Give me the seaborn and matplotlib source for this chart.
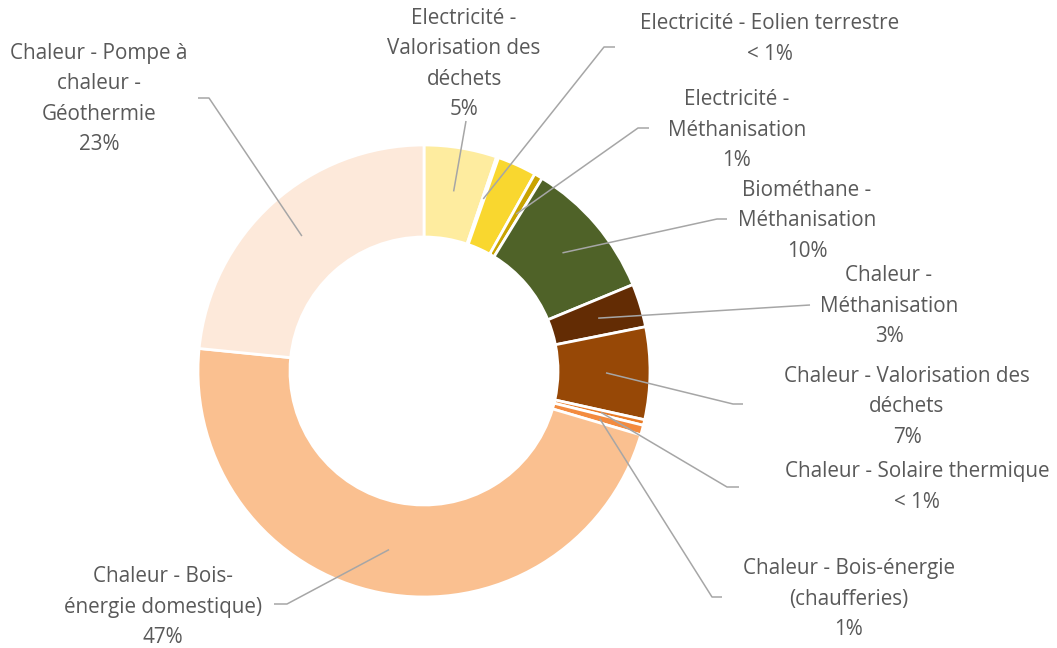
import numpy as np
import matplotlib
matplotlib.use("Agg")
import matplotlib.pyplot as plt
import seaborn as sns

# ---------------- data ----------------
categories = [
    "Electricité - Valorisation des déchets",
    "Electricité - Eolien terrestre",
    "Electricité - Photovoltaïque",
    "Electricité - Méthanisation",
    "Biométhane - Méthanisation",
    "Chaleur - Méthanisation",
    "Chaleur - Valorisation des déchets",
    "Chaleur - Solaire thermique",
    "Chaleur - Bois-énergie (chaufferies)",
    "Chaleur - Bois-énergie domestique)",
    "Chaleur - Pompe à chaleur - Géothermie",
]
shares = [5.2, 0.15, 2.8, 0.6, 10.0, 3.1, 6.6, 0.4, 0.7, 47.0, 23.4]
label_texts = [
    "Electricité -\nValorisation des\ndéchets",
    "Electricité - Eolien terrestre",
    None,
    "Electricité -\nMéthanisation",
    "Biométhane -\nMéthanisation",
    "Chaleur -\nMéthanisation",
    "Chaleur - Valorisation des\ndéchets",
    "Chaleur - Solaire thermique",
    "Chaleur - Bois-énergie\n(chaufferies)",
    "Chaleur - Bois-\nénergie domestique)",
    "Chaleur - Pompe à\nchaleur -\nGéothermie",
]
pct_labels = ["5%", "< 1%", None, "1%", "10%", "3%", "7%", "< 1%", "1%", "47%", "23%"]
slice_colors = ["#FEEC9F", "#F6D44A", "#F9D72F", "#C9A300", "#4F6228", "#632C04",
                "#974806", "#E97B26", "#F38B3F", "#FAC090", "#FDE9DA"]

# ---------------- layout (pixels, y downwards) ----------------
W, H = 1057, 648
CX, CY = 424, 371
R_OUT, R_IN = 226, 134
R_LEADER = 182
# text centre, elbow (or None), end of leader
layout = {
    0: ((464, 64), None, (466, 121)),
    1: ((770, 39), (604, 47), (615, 47)),
    3: ((737, 130), (638, 128), (649, 128)),
    4: ((807, 221), (717, 219), (727, 219)),
    5: ((889, 306), None, (810, 305)),
    6: ((907, 407), (733, 404), (743, 404)),
    7: ((917, 487), (727, 487), (739, 487)),
    8: ((849, 599), (712, 597), (722, 597)),
    9: ((163, 607), (287, 604), (274, 604)),
    10: ((99, 99), (209, 98), (198, 98)),
}

sns.set_theme(style="white")
plt.rcParams["font.family"] = ["Open Sans", "DejaVu Sans"]

fig = plt.figure(figsize=(W / 100, H / 100), dpi=100)
ax = fig.add_axes([0, 0, 1, 1])

palette = sns.color_palette(slice_colors)
wedges, _ = ax.pie(
    shares,
    radius=R_OUT,
    center=(CX, H - CY),
    startangle=90,
    counterclock=False,
    colors=palette,
    wedgeprops=dict(width=R_OUT - R_IN, edgecolor="white", linewidth=2),
)

ax.set_xlim(0, W)
ax.set_ylim(0, H)
ax.set_aspect("equal", adjustable="box")
ax.axis("off")

TEXT_COLOR = "#595959"
LINE_COLOR = "#A6A6A6"
FS = 14.9

for i, w in enumerate(wedges):
    if label_texts[i] is None:
        continue
    mid = np.deg2rad((w.theta1 + w.theta2) / 2.0)
    sx = CX + R_LEADER * np.cos(mid)
    sy = (H - CY) + R_LEADER * np.sin(mid)
    (tx, ty), elbow, end = layout[i]
    xs = [sx]
    ys = [sy]
    if elbow is not None:
        xs.append(elbow[0]); ys.append(H - elbow[1])
    xs.append(end[0]); ys.append(H - end[1])
    ax.plot(xs, ys, color=LINE_COLOR, lw=1.1, solid_capstyle="butt", zorder=3)
    ax.text(tx, H - ty, label_texts[i] + "\n" + pct_labels[i],
            ha="center", va="center", multialignment="center",
            fontsize=FS, color=TEXT_COLOR, linespacing=1.6)

fig.savefig("out.png", dpi=100, facecolor="white")
